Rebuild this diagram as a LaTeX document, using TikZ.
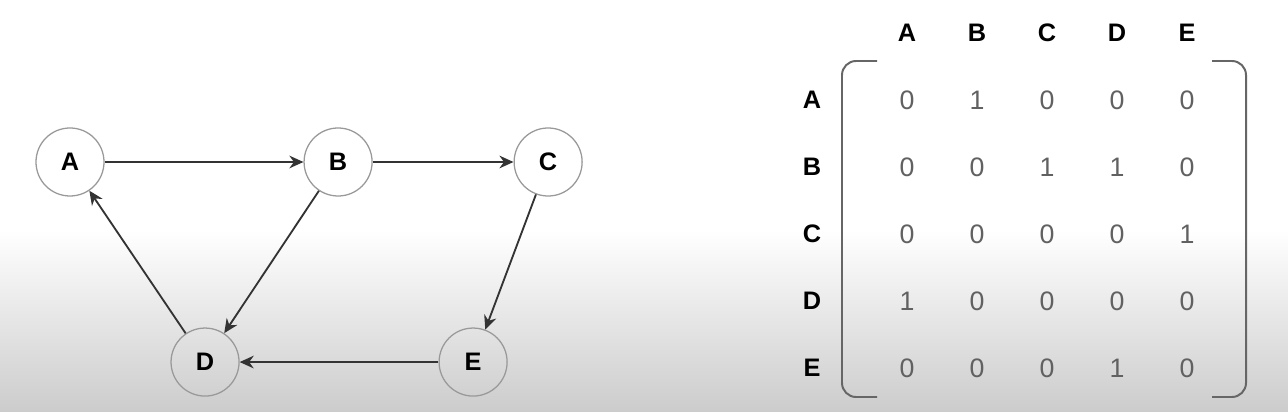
\documentclass[tikz,border=0pt]{standalone}
\usepackage{fontspec}
\setmainfont{Liberation Sans}
\usetikzlibrary{arrows.meta}
\tikzstyle{vertex} = [circle, minimum size=1.7cm, inner sep=0pt, draw=black!40, line width=0.9pt, font=\fontsize{18}{21}\selectfont\bfseries]
\tikzstyle{head} = [inner sep=0pt, font=\fontsize{18}{21}\selectfont\bfseries]
\tikzstyle{entry} = [inner sep=0pt, text=black!62, font=\fontsize{19}{22}\selectfont]
\tikzstyle{arrow} = [draw=black!80, line width=1.3pt, -{Stealth[length=10pt, width=9pt]}]
\tikzstyle{bracket} = [draw=black!60, line width=1.4pt, rounded corners=10pt]

\begin{document}
\begin{tikzpicture}[x=0.025cm, y=-0.025cm, node distance=6.7cm]

            % background
            \useasboundingbox (0,0) rectangle (1288,412);
            \fill[white] (0,0) rectangle (1288,412);
            \shade[top color=white, bottom color=black!20] (0,230) rectangle (1288,412);

            % graph
            \node (A) [vertex] at (70,162) {A};

            \node (B) [vertex, right of=A] {B};

            \node (C) [vertex, right of=B, xshift=-1.45cm] {C};

            \node (D) [vertex, below of=A, xshift=3.375cm, yshift=1.7cm] {D};

            \node (E) [vertex, right of=D] {E};

            \draw [arrow] (A) -- (B);
            \draw [arrow] (B) -- (C);
            \draw [arrow] (B) -- (D);
            \draw [arrow] (C) -- (E);
            \draw [arrow] (E) -- (D);
            \draw [arrow] (D) -- (A);

            % adjacency matrix
            \foreach \h [count=\j from 0] in {A,B,C,D,E}
                \node (col\h) [head] at (907+70*\j,33) {\h};

            \foreach \r/\vals [count=\i from 0] in {A/{0,1,0,0,0}, B/{0,0,1,1,0}, C/{0,0,0,0,1}, D/{1,0,0,0,0}, E/{0,0,0,1,0}} {
                \node (row\r) [head] at (812,100+67*\i) {\r};
                \foreach \v [count=\j from 0] in \vals
                    \node (m-\i-\j) [entry] at (907+70*\j,100+67*\i) {\v};
            }

            \draw [bracket] (877,61) -- (842,61) -- (842,397) -- (877,397);
            \draw [bracket] (1212,61) -- (1246,61) -- (1246,397) -- (1212,397);

\end{tikzpicture}
\end{document}
